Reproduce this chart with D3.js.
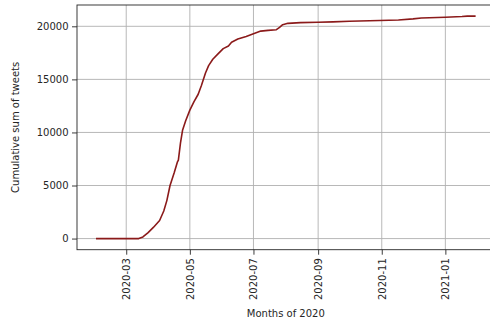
<!DOCTYPE html>
<html>
<head>
<meta charset="utf-8">
<script src="https://cdn.jsdelivr.net/npm/d3@7"></script>
<style>
  html, body { margin: 0; padding: 0; background: #fff; }
  svg { display: block; }
  text { font-family: "DejaVu Sans", sans-serif; }
</style>
</head>
<body>
<svg id="chart" width="490" height="323"></svg>
<script>
// Cumulative tweet count by date
const dates = [
  "2020-02-01","2020-03-13","2020-03-17","2020-03-22","2020-03-27","2020-04-02",
  "2020-04-06","2020-04-09","2020-04-12","2020-04-16","2020-04-19","2020-04-20",
  "2020-04-22","2020-04-24","2020-04-27","2020-05-01","2020-05-05","2020-05-09",
  "2020-05-12","2020-05-16","2020-05-19","2020-05-23","2020-05-28","2020-06-02",
  "2020-06-07","2020-06-10","2020-06-16","2020-06-24","2020-07-01","2020-07-08",
  "2020-07-15","2020-07-23","2020-07-26","2020-07-29","2020-08-03","2020-08-15",
  "2020-09-01","2020-09-15","2020-10-01","2020-10-30","2020-11-17","2020-12-01",
  "2020-12-09","2021-01-01","2021-01-17","2021-01-22","2021-01-30"
];
const cumulative = [
  0, 0, 150, 560, 1050, 1700,
  2600, 3600, 5000, 6200, 7200, 7400,
  9000, 10200, 11100, 12100, 12900, 13600,
  14400, 15600, 16300, 16900, 17400, 17900,
  18150, 18500, 18800, 19050, 19300, 19550,
  19620, 19680, 19900, 20150, 20280, 20350,
  20380, 20420, 20480, 20550, 20600, 20700,
  20780, 20850, 20920, 20960, 20960
];
const xTickDates = ["2020-03-01","2020-05-01","2020-07-01","2020-09-01","2020-11-01","2021-01-01"];
const yTickValues = [0, 5000, 10000, 15000, 20000];
const xLabel = "Months of 2020";
const yLabel = "Cumulative sum of tweets";

const parse = d3.utcParse("%Y-%m-%d");
const data = dates.map((d, i) => ({ date: parse(d), value: cumulative[i] }));

const svg = d3.select("#chart");
const plot = { left: 77, top: 5, width: 417.6, height: 244.7 };

// 5% padding on both axes around the data extent
const [t0, t1] = d3.extent(data, d => d.date);
const tPad = (t1 - t0) * 0.05;
const [v0, v1] = d3.extent(data, d => d.value);
const vPad = (v1 - v0) * 0.05;

const x = d3.scaleUtc()
  .domain([new Date(+t0 - tPad), new Date(+t1 + tPad)])
  .range([plot.left, plot.left + plot.width]);
const y = d3.scaleLinear()
  .domain([v0 - vPad, v1 + vPad])
  .range([plot.top + plot.height, plot.top]);

const ink = "#262626";
const gridColor = "#b0b0b0";

// grid
const grid = svg.append("g");
grid.selectAll(".gx").data(xTickDates.map(parse)).join("line")
  .attr("x1", d => x(d)).attr("x2", d => x(d))
  .attr("y1", plot.top).attr("y2", plot.top + plot.height)
  .attr("stroke", gridColor).attr("stroke-width", 0.9);
grid.selectAll(".gy").data(yTickValues).join("line")
  .attr("x1", plot.left).attr("x2", plot.left + plot.width)
  .attr("y1", d => y(d)).attr("y2", d => y(d))
  .attr("stroke", gridColor).attr("stroke-width", 0.9);

// line
const line = d3.line().x(d => x(d.date)).y(d => y(d.value));
svg.append("path").datum(data)
  .attr("d", line)
  .attr("fill", "none")
  .attr("stroke", "#8b1a1a")
  .attr("stroke-width", 1.6)
  .attr("stroke-linejoin", "round");

// axes
const fmt = d3.utcFormat("%Y-%m");
const xAxis = svg.append("g")
  .attr("transform", `translate(0,${plot.top + plot.height})`)
  .call(d3.axisBottom(x).tickValues(xTickDates.map(parse)).tickFormat(fmt)
    .tickSize(5).tickPadding(3.5));
xAxis.selectAll("text")
  .attr("transform", "rotate(-90)")
  .attr("text-anchor", "end")
  .attr("x", -8.5).attr("y", 0).attr("dy", "0.35em");

const yAxis = svg.append("g")
  .attr("transform", `translate(${plot.left},0)`)
  .call(d3.axisLeft(y).tickValues(yTickValues).tickFormat(d3.format("d"))
    .tickSize(5).tickPadding(3.5));

[xAxis, yAxis].forEach(g => {
  g.select(".domain").remove();
  g.selectAll("line").attr("stroke", ink).attr("stroke-width", 0.9);
  g.selectAll("text").attr("fill", ink).style("font-size", "10px")
    .style("font-family", "'DejaVu Sans', sans-serif");
});

// spines
const spines = svg.append("g").attr("stroke", ink).attr("stroke-width", 0.9).attr("fill", "none");
spines.append("rect")
  .attr("x", plot.left).attr("y", plot.top)
  .attr("width", plot.width).attr("height", plot.height);

// labels
svg.append("text")
  .attr("x", plot.left + plot.width / 2).attr("y", 317)
  .attr("text-anchor", "middle").attr("fill", ink).style("font-size", "10px")
  .text(xLabel);
svg.append("text")
  .attr("transform", `translate(19,${plot.top + plot.height / 2}) rotate(-90)`)
  .attr("text-anchor", "middle").attr("fill", ink).style("font-size", "10px")
  .text(yLabel);
</script>
</body>
</html>
